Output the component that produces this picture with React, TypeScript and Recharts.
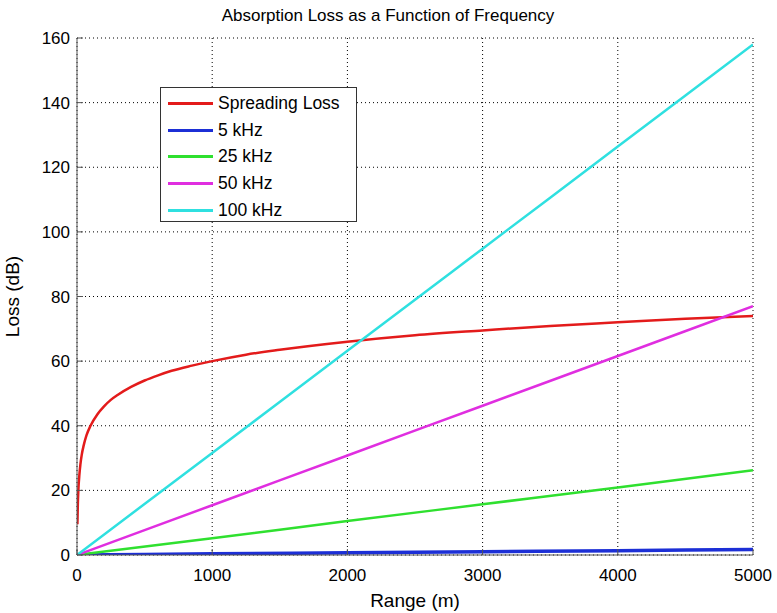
import { LineChart, Line, XAxis, YAxis, CartesianGrid, Legend, Label } from "recharts";

// values
const xTicks = [0, 1000, 2000, 3000, 4000, 5000];
const yTicks = [0, 20, 40, 60, 80, 100, 120, 140, 160];

const spreadRange = [3, 6, 10, 18, 25, 35, 50, 70, 100, 150, 200, 250, 300, 400, 500, 600, 700, 850, 1000, 1250, 1500, 2000, 2500, 3000, 3500, 4000, 4500, 5000];
const spreadLoss = [9.5, 15.5, 20, 25, 28, 31, 34, 37, 40, 43.5, 46, 48, 49.5, 52, 54, 55.6, 57, 58.6, 60, 62, 63.5, 66, 68, 69.5, 70.9, 72, 73.1, 74];

const absRange = [0, 1000, 2000, 3000, 4000, 5000];
const loss5k = [0, 0.35, 0.7, 1.0, 1.35, 1.7];
const loss25k = [0, 5.2, 10.5, 15.7, 20.9, 26.2];
const loss50k = [0, 15.4, 30.8, 46.2, 61.6, 77];
const loss100k = [0, 31.6, 63.2, 94.8, 126.4, 158];

const series = [
  { name: "Spreading Loss", color: "#e31b1b", width: 2.5, x: spreadRange, y: spreadLoss },
  { name: "5 kHz", color: "#1c2fd6", width: 3.5, x: absRange, y: loss5k },
  { name: "25 kHz", color: "#2fe02f", width: 2.5, x: absRange, y: loss25k },
  { name: "50 kHz", color: "#e02ee0", width: 2.5, x: absRange, y: loss50k },
  { name: "100 kHz", color: "#2fe0e0", width: 2.5, x: absRange, y: loss100k },
];

const font = "'Liberation Sans', Arial, sans-serif";

function LegendBox() {
  return (
    <div
      style={{
        width: 197,
        height: 135,
        border: "1px solid #333",
        background: "#fff",
        overflow: "hidden",
        fontFamily: font,
        fontSize: 17.5,
        color: "#000",
        boxSizing: "border-box",
        paddingTop: 2,
      }}
    >
      {series.map((s) => (
        <div key={s.name} style={{ display: "flex", alignItems: "center", height: 26.8, whiteSpace: "nowrap" }}>
          <div style={{ width: 45, height: 3, background: s.color, marginLeft: 7, marginRight: 5 }} />
          <span>{s.name}</span>
        </div>
      ))}
    </div>
  );
}

export default function App() {
  return (
    <div style={{ position: "absolute", left: 0, top: 0, background: "#fff" }}>
      <div
        style={{
          position: "absolute",
          top: 6,
          left: 0,
          width: 776,
          textAlign: "center",
          fontFamily: font,
          fontSize: 17,
          color: "#000",
          zIndex: 2,
        }}
      >
        Absorption Loss as a Function of Frequency
      </div>
      <LineChart width={777} height={613} margin={{ top: 38, right: 24, bottom: 0, left: 0 }}>
        <CartesianGrid stroke="#000" strokeDasharray="1 3" />
        <XAxis
          type="number"
          dataKey="x"
          domain={[0, 5000]}
          ticks={xTicks}
          height={58}
          stroke="#555"
          tickSize={-6}
          tickMargin={20}
          tick={{ fill: "#000", fontSize: 17, fontFamily: font }}
          allowDataOverflow
        >
          <Label value="Range (m)" position="insideBottom" offset={6} style={{ fill: "#000", fontSize: 19, fontFamily: font }} />
        </XAxis>
        <XAxis xAxisId="top" orientation="top" type="number" domain={[0, 5000]} ticks={xTicks} height={0} stroke="#555" tickSize={-6} tick={false} />
        <YAxis
          type="number"
          domain={[0, 160]}
          ticks={yTicks}
          width={77}
          stroke="#555"
          tickSize={-6}
          tickMargin={13}
          tick={{ fill: "#000", fontSize: 17, fontFamily: font }}
          allowDataOverflow
        >
          <Label value="Loss (dB)" angle={-90} position="insideLeft" offset={12} style={{ fill: "#000", fontSize: 19, fontFamily: font, textAnchor: "middle" }} />
        </YAxis>
        <YAxis yAxisId="right" orientation="right" type="number" domain={[0, 160]} ticks={yTicks} width={0} stroke="#555" tickSize={-6} tick={false} />
        {series.map((s) => (
          <Line
            key={s.name}
            name={s.name}
            data={s.x.map((x, i) => ({ x, y: s.y[i] }))}
            dataKey="y"
            stroke={s.color}
            strokeWidth={s.width}
            dot={false}
            type="monotone"
            isAnimationActive={false}
          />
        ))}
        <Legend
          layout="horizontal"
          verticalAlign="middle"
          align="center"
          content={() => <LegendBox />}
          wrapperStyle={{ left: 160, top: 87, width: 197 }}
        />
      </LineChart>
    </div>
  );
}
